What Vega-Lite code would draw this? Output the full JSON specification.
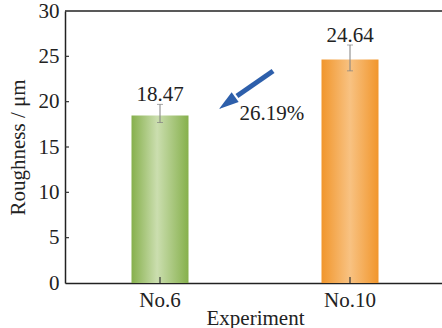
{
  "$schema": "https://vega.github.io/schema/vega-lite/v6.json",
  "width": 377,
  "height": 272,
  "autosize": {"type": "none"},
  "padding": {"left": 65, "top": 11, "right": 0, "bottom": 45},
  "background": "white",
  "config": {
    "view": {"stroke": null},
    "font": "Liberation Serif",
    "axis": {
      "labelFont": "Liberation Serif",
      "titleFont": "Liberation Serif",
      "labelFontSize": 21,
      "titleFontSize": 21,
      "titleFontWeight": "normal",
      "labelColor": "#222",
      "titleColor": "#222",
      "domainColor": "#222",
      "domainWidth": 1.5,
      "ticks": false,
      "grid": false,
      "zindex": 2
    }
  },
  "datasets": {
    "bars": [
      {"name": "No.6", "roughness": 18.47, "lo": 17.7, "hi": 19.7, "t0": 0, "t1": 0.66},
      {"name": "No.10", "roughness": 24.64, "lo": 23.4, "hi": 26.25, "t0": 0, "t1": 0.66}
    ],
    "yticks": [
      {"v": 5, "a": -0.5, "b": -0.479},
      {"v": 10, "a": -0.5, "b": -0.479},
      {"v": 15, "a": -0.5, "b": -0.479},
      {"v": 20, "a": -0.5, "b": -0.479},
      {"v": 25, "a": -0.5, "b": -0.479}
    ],
    "shaft": [{"ax": 0.595, "ay": 23.38, "ax2": 0.405, "ay2": 20.62}],
    "head": [{"ax": 0.353, "ay": 19.85}],
    "note": [{"ax": 0.589, "ay": 17.98, "label": "26.19%"}]
  },
  "layer": [
    {
      "data": {"name": "bars"},
      "encoding": {
        "x": {
          "field": "name",
          "type": "nominal",
          "scale": {"domain": ["No.6", "No.10"], "range": [0, 380], "paddingInner": 0.7, "paddingOuter": 0.35},
          "axis": {"title": "Experiment", "labelAngle": 0, "labelPadding": 6, "titlePadding": -3, "domain": true}
        }
      },
      "layer": [
        {
          "transform": [{"filter": "datum.name === 'No.6'"}],
          "mark": {"type": "bar", "color": {"gradient": "linear", "x1": 0, "y1": 0, "x2": 1, "y2": 0, "stops": [{"offset": 0, "color": "#86b04c"}, {"offset": 0.45, "color": "#cbdeaf"}, {"offset": 1, "color": "#86b04c"}]}},
          "encoding": {
            "y": {"field": "roughness", "type": "quantitative", "scale": {"domain": [0, 30], "nice": false}, "axis": {"title": "Roughness / μm", "values": [0, 5, 10, 15, 20, 25, 30], "labelPadding": 6, "titlePadding": 10}}
          }
        },
        {
          "transform": [{"filter": "datum.name === 'No.10'"}],
          "mark": {"type": "bar", "color": {"gradient": "linear", "x1": 0, "y1": 0, "x2": 1, "y2": 0, "stops": [{"offset": 0, "color": "#f1962c"}, {"offset": 0.5, "color": "#f8c282"}, {"offset": 1, "color": "#f1962c"}]}},
          "encoding": {"y": {"field": "roughness", "type": "quantitative"}}
        },
        {
          "mark": {"type": "rule", "color": "#333", "strokeWidth": 1.2},
          "encoding": {"y": {"field": "t0", "type": "quantitative"}, "y2": {"field": "t1"}}
        },
        {
          "mark": {"type": "rule", "color": "#808080", "strokeWidth": 1},
          "encoding": {"y": {"field": "lo", "type": "quantitative"}, "y2": {"field": "hi"}}
        },
        {
          "mark": {"type": "tick", "color": "#808080", "thickness": 1, "size": 6, "orient": "horizontal"},
          "encoding": {"y": {"field": "lo", "type": "quantitative"}}
        },
        {
          "mark": {"type": "tick", "color": "#808080", "thickness": 1, "size": 6, "orient": "horizontal"},
          "encoding": {"y": {"field": "hi", "type": "quantitative"}}
        },
        {
          "mark": {"type": "text", "font": "Liberation Serif", "fontSize": 21, "color": "#222", "baseline": "alphabetic", "dy": -3},
          "encoding": {"y": {"field": "hi", "type": "quantitative"}, "text": {"field": "roughness", "type": "quantitative", "format": ".2f"}}
        }
      ]
    },
    {
      "layer": [
        {
          "data": {"values": [{"top": 30}]},
          "mark": {"type": "rule", "color": "#222", "strokeWidth": 1.5},
          "encoding": {"y": {"field": "top", "type": "quantitative"}}
        },
        {
          "data": {"name": "yticks"},
          "mark": {"type": "rule", "color": "#333", "strokeWidth": 1.2},
          "encoding": {
            "x": {"field": "a", "type": "quantitative", "scale": {"domain": [0, 1], "range": [95, 285]}, "axis": null},
            "x2": {"field": "b"},
            "y": {"field": "v", "type": "quantitative"}
          }
        },
        {
          "data": {"name": "shaft"},
          "mark": {"type": "rule", "color": "#2d5fab", "strokeWidth": 5, "strokeCap": "butt"},
          "encoding": {
            "x": {"field": "ax", "type": "quantitative", "axis": null},
            "y": {"field": "ay", "type": "quantitative"},
            "x2": {"field": "ax2"},
            "y2": {"field": "ay2"}
          }
        },
        {
          "data": {"name": "head"},
          "mark": {"type": "point", "shape": "M0,-1L0.6,1L-0.6,1Z", "size": 400, "filled": true, "opacity": 1, "color": "#2d5fab", "angle": 234},
          "encoding": {
            "x": {"field": "ax", "type": "quantitative", "axis": null},
            "y": {"field": "ay", "type": "quantitative"}
          }
        },
        {
          "data": {"name": "note"},
          "mark": {"type": "text", "font": "Liberation Serif", "fontSize": 21, "color": "#222", "baseline": "alphabetic", "align": "center"},
          "encoding": {
            "x": {"field": "ax", "type": "quantitative", "axis": null},
            "y": {"field": "ay", "type": "quantitative"},
            "text": {"field": "label"}
          }
        }
      ]
    }
  ],
  "resolve": {"scale": {"x": "independent"}}
}
